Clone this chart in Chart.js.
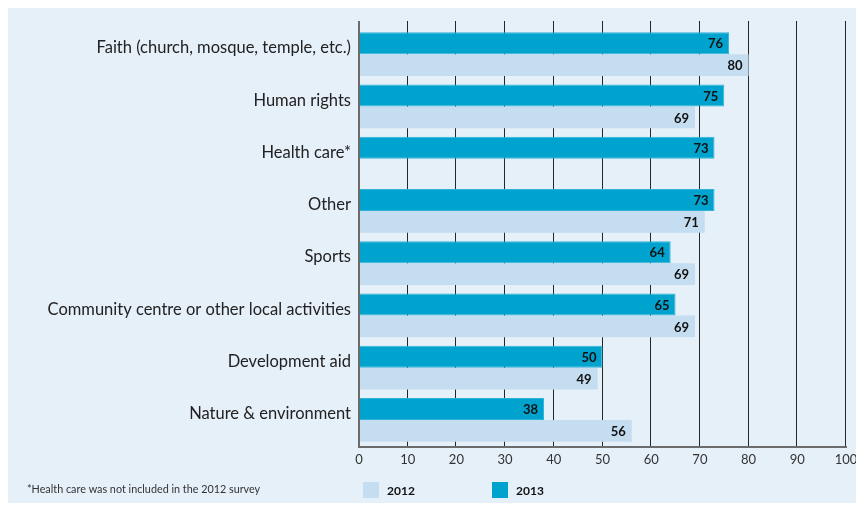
<!DOCTYPE html>
<html>
<head>
<meta charset="utf-8">
<script src="https://cdn.jsdelivr.net/npm/chart.js@4/dist/chart.umd.min.js"></script>
<style>
  html, body { margin: 0; padding: 0; background: #fff; }
  #wrap { width: 856px; height: 508px; }
</style>
</head>
<body>
<div id="wrap"><canvas id="c" width="856" height="508"></canvas></div>
<script>
// Volunteering areas, share of respondents (%)
const categories = [
  'Faith (church, mosque, temple, etc.)',
  'Human rights',
  'Health care*',
  'Other',
  'Sports',
  'Community centre or other local activities',
  'Development aid',
  'Nature & environment'
];
const values2013 = [76, 75, 73, 73, 64, 65, 50, 38];
const values2012 = [80, 69, null, 71, 69, 69, 49, 56];
const xTicks = [0, 10, 20, 30, 40, 50, 60, 70, 80, 90, 100];
const seriesLabels = ['2013', '2012'];
const footnote = '*Health care was not included in the 2012 survey';

const COLOR_2013 = '#00A3CE';
const COLOR_2012 = '#C5DDF0';
const PANEL = '#E6F0F9';
const FONT = 'Lato, "Open Sans", sans-serif';

const decor = {
  id: 'decor',
  beforeDraw(chart) {
    const ctx = chart.ctx;
    ctx.save();
    ctx.fillStyle = '#ffffff';
    ctx.fillRect(0, 0, chart.width, chart.height);
    ctx.fillStyle = PANEL;
    ctx.fillRect(8, 8, chart.width - 8, 495);
    ctx.restore();
  },
  beforeDatasetsDraw(chart) {
    const { ctx, chartArea: a, scales: { x } } = chart;
    ctx.save();
    ctx.strokeStyle = '#262626';
    ctx.lineWidth = 1;
    xTicks.forEach(v => {
      if (v === 0) return;
      const px = Math.round(x.getPixelForValue(v)) - 0.5;
      ctx.beginPath();
      ctx.moveTo(px, a.top - 7);
      ctx.lineTo(px, a.bottom);
      ctx.stroke();
    });
    ctx.restore();
  },
  afterDatasetsDraw(chart) {
    const { ctx, chartArea: a } = chart;
    ctx.save();
    // value labels inside bar ends
    ctx.font = 'bold 13px ' + FONT;
    ctx.fillStyle = '#111';
    ctx.textAlign = 'right';
    ctx.textBaseline = 'middle';
    chart.data.datasets.forEach((ds, i) => {
      const meta = chart.getDatasetMeta(i);
      meta.data.forEach((el, j) => {
        const v = ds.data[j];
        if (v === null || v === undefined) return;
        ctx.fillText(String(v), el.x - 6, el.y + 1);
      });
    });
    // axis lines
    ctx.strokeStyle = '#6b6b6b';
    ctx.lineWidth = 2;
    ctx.beginPath();
    ctx.moveTo(a.left, a.top - 7);
    ctx.lineTo(a.left, a.bottom + 1);
    ctx.lineTo(a.right + 1, a.bottom + 1);
    ctx.stroke();
    ctx.restore();
  },
  afterDraw(chart) {
    const ctx = chart.ctx;
    ctx.save();
    // footnote
    ctx.font = '10.8px ' + FONT;
    ctx.fillStyle = '#333';
    ctx.textAlign = 'left';
    ctx.textBaseline = 'middle';
    ctx.fillText(footnote, 27, 490);
    // legend
    const items = [
      { label: seriesLabels[1], color: COLOR_2012, x: 363 },
      { label: seriesLabels[0], color: COLOR_2013, x: 492 }
    ];
    ctx.font = 'bold 12px ' + FONT;
    items.forEach(it => {
      ctx.fillStyle = it.color;
      ctx.fillRect(it.x, 482, 16, 16);
      ctx.fillStyle = '#111';
      ctx.fillText(it.label, it.x + 24, 491);
    });
    ctx.restore();
  }
};

new Chart(document.getElementById('c'), {
  type: 'bar',
  data: {
    labels: categories,
    datasets: [
      { label: seriesLabels[0], data: values2013, backgroundColor: COLOR_2013,
        borderColor: '#2EB2D9', borderWidth: 1,
        categoryPercentage: 0.842, barPercentage: 1.0 },
      { label: seriesLabels[1], data: values2012, backgroundColor: COLOR_2012,
        categoryPercentage: 0.842, barPercentage: 1.0 }
    ]
  },
  options: {
    indexAxis: 'y',
    responsive: false,
    animation: false,
    devicePixelRatio: 1,
    layout: { padding: { top: 28, right: 10, left: 0, bottom: 0 } },
    plugins: { legend: { display: false }, tooltip: { enabled: false } },
    scales: {
      x: {
        type: 'linear',
        min: 0,
        max: 100,
        afterBuildTicks(s) { s.ticks = xTicks.map(v => ({ value: v })); },
        ticks: { font: { family: FONT, size: 13 }, color: '#333', padding: 6 },
        grid: { display: false, drawTicks: false },
        border: { display: false },
        afterFit(s) { s.height = 62; s.paddingLeft = 0; s.paddingRight = 0; }
      },
      y: {
        type: 'category',
        ticks: { font: { family: FONT, size: 16.5 }, color: '#222', padding: 8, labelOffset: -6 },
        grid: { display: false, drawTicks: false },
        border: { display: false },
        afterFit(s) { s.width = 359; s.paddingTop = 0; s.paddingBottom = 0; }
      }
    }
  },
  plugins: [decor]
});
</script>
</body>
</html>
